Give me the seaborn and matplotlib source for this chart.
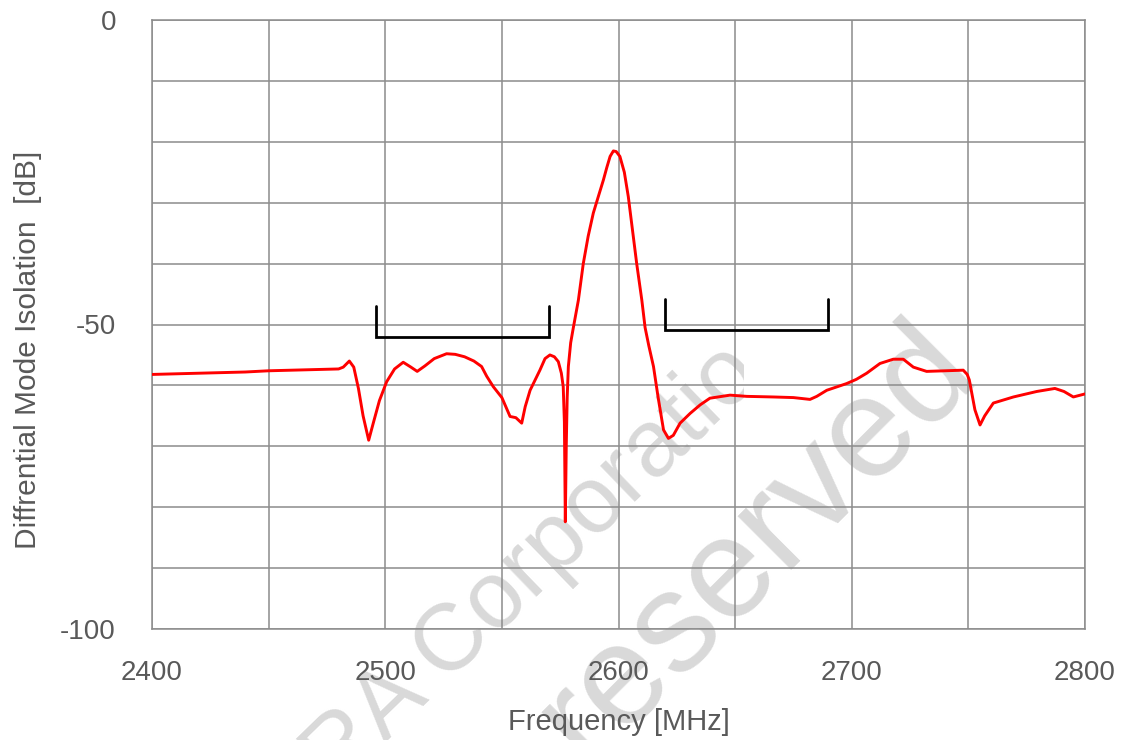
import matplotlib
matplotlib.use("Agg")
import matplotlib.pyplot as plt
import seaborn as sns
import pandas as pd
from matplotlib.ticker import MultipleLocator, FuncFormatter
from matplotlib.transforms import Bbox, TransformedBbox

# ---- data ----
freq_mhz = [2400, 2420, 2440, 2450, 2470, 2480, 2482, 2484.6, 2486.5, 2488.5,
            2490.5, 2492.9, 2495, 2497.5, 2500.6, 2504, 2507.7, 2511, 2513.7, 2517,
            2521, 2526.3, 2530, 2534, 2538, 2541.3, 2543.5, 2546.3, 2550, 2553.5,
            2556, 2558.5, 2560, 2562.1, 2566.3, 2568.5, 2570.6, 2572.5, 2574.2, 2575.5,
            2576.3, 2576.8, 2577.2, 2577.6, 2578.0, 2578.5, 2579.5, 2580.6, 2582.8, 2584.9,
            2587, 2589.2, 2591.5, 2593.5, 2595, 2596.4, 2597.8, 2599, 2600.6, 2602.5,
            2604.2, 2606, 2607.8, 2610.0, 2611.4, 2613, 2615.0, 2617, 2619.3, 2621.4,
            2623.5, 2626.4, 2630.7, 2635, 2639.2, 2647.8, 2655, 2666.4, 2675, 2682.1,
            2685, 2689.3, 2697.8, 2702, 2706.4, 2712.1, 2717.8, 2722.1, 2726.4, 2732.1,
            2740, 2747.8, 2749.5, 2750.4, 2752.8, 2755.0, 2757, 2760.7, 2769.3, 2779.3,
            2787.1, 2791, 2795.0, 2800]
isolation_db = [-58.2, -58.0, -57.8, -57.6, -57.4, -57.3, -57.0, -56.0, -57.0, -60.5,
                -65.0, -69.0, -66.0, -62.5, -59.4, -57.3, -56.2, -57.0, -57.7, -56.8,
                -55.6, -54.8, -54.9, -55.3, -56.0, -56.9, -58.5, -60.2, -62.0, -65.1,
                -65.3, -66.2, -63.5, -60.8, -57.5, -55.6, -55.0, -55.3, -56.1, -58.0,
                -60.2, -66.0, -82.4, -70.0, -62.0, -56.9, -53.0, -50.6, -46.0, -40.0,
                -35.5, -31.7, -28.8, -26.3, -24.2, -22.4, -21.5, -21.6, -22.4, -25.0,
                -29.0, -34.5, -40.0, -46.0, -50.5, -53.5, -56.9, -62.0, -67.3, -68.7,
                -68.2, -66.2, -64.6, -63.2, -62.1, -61.6, -61.8, -61.9, -62.0, -62.3,
                -61.8, -60.8, -59.7, -59.0, -58.0, -56.4, -55.7, -55.7, -57.0, -57.7,
                -57.6, -57.5, -58.2, -59.1, -64.0, -66.5, -65.0, -62.9, -61.9, -61.0,
                -60.5, -61.0, -61.9, -61.4]

# band brackets (Tx / Rx band edges, bracket levels in dB)
tx_band = [2496, 2570]
tx_level = [-47.0, -52.1]
rx_band = [2620, 2690]
rx_level = [-45.8, -50.9]

x_ticks = [2400, 2500, 2600, 2700, 2800]
y_ticks = [0, -50, -100]

df = pd.DataFrame({"Frequency": freq_mhz, "Isolation": isolation_db})

sns.set_theme(style="white")
plt.rcParams['font.family'] = ['Liberation Sans', 'DejaVu Sans']

W, H = 1121, 740
fig = plt.figure(figsize=(W / 100, H / 100), dpi=100)
fig.patch.set_facecolor("white")
ax = fig.add_axes([152/W, 1-629/H, 933/W, 609/H])
ax.patch.set_alpha(0)

grid_c = "#8c8c8c"
text_c = "#595959"

ax.set_xlim(2400, 2800)
ax.set_ylim(-100, 0)
ax.xaxis.set_major_locator(MultipleLocator(50))
ax.yaxis.set_major_locator(MultipleLocator(10))
ax.xaxis.set_major_formatter(FuncFormatter(lambda v, p: f"{int(round(v))}" if int(round(v)) in x_ticks else ""))
ax.yaxis.set_major_formatter(FuncFormatter(lambda v, p: f"{int(round(v))}" if int(round(v)) in y_ticks else ""))
ax.grid(True, color=grid_c, linewidth=1.1)
ax.set_axisbelow(True)
for s in ax.spines.values():
    s.set_color(grid_c)
    s.set_linewidth(1.1)
ax.tick_params(axis="both", length=0, labelsize=20, labelcolor=text_c)
ax.tick_params(axis="x", pad=22)
ax.tick_params(axis="y", pad=26)

# watermark (drawn underneath everything)
wm_c = "#d9d9d9"
t1 = fig.text(336/W, 1-791/H, "RA Corporatio", fontsize=68, color=wm_c,
              rotation=44, rotation_mode="anchor", ha="left", va="baseline", zorder=-5)
t1.set_clip_box(TransformedBbox(Bbox([[0, 0], [744/W, 1]]), fig.transFigure))
fig.text(586/W, 1-766/H, "reserved", fontsize=103, color=wm_c,
         rotation=45, rotation_mode="anchor", ha="left", va="baseline", zorder=-5)

sns.lineplot(data=df, x="Frequency", y="Isolation", ax=ax, color="#ff0000",
             linewidth=2.1, zorder=3)

for band, lvl in ((tx_band, tx_level), (rx_band, rx_level)):
    ax.plot([band[0], band[0], band[1], band[1]], [lvl[0], lvl[1], lvl[1], lvl[0]],
            color="black", linewidth=2.0, zorder=4, solid_joinstyle="miter")

ax.set_xlabel("Frequency [MHz]", fontsize=21, color=text_c, labelpad=16)
ax.set_ylabel("Diffrential Mode Isolation  [dB]", fontsize=21.5, color=text_c)
ax.yaxis.set_label_coords(-0.118, 0.458)

fig.savefig("out.png", dpi=100)
